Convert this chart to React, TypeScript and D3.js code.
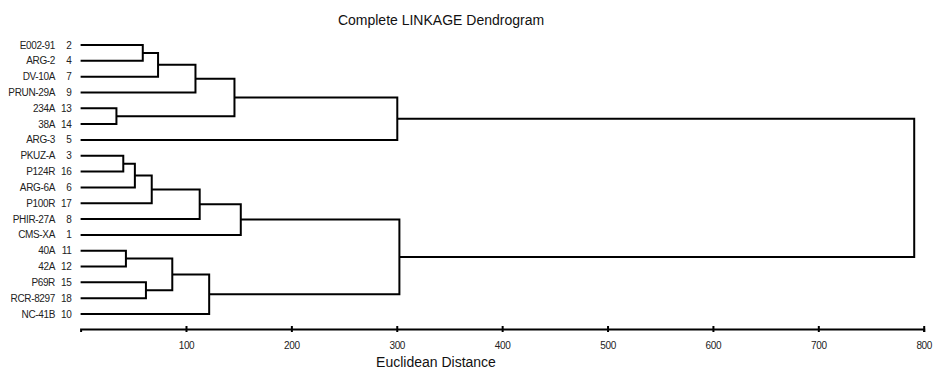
import { useEffect, useRef } from 'react';
import * as d3 from 'd3';

// hojas del dendrograma, de arriba a abajo
const leafNames = [
  'E002-91', 'ARG-2', 'DV-10A', 'PRUN-29A', '234A', '38A', 'ARG-3',
  'PKUZ-A', 'P124R', 'ARG-6A', 'P100R', 'PHIR-27A', 'CMS-XA',
  '40A', '42A', 'P69R', 'RCR-8297', 'NC-41B',
];
const leafIds = [2, 4, 7, 9, 13, 14, 5, 3, 16, 6, 17, 8, 1, 11, 12, 15, 18, 10];

// uniones: [nodo, hijo A, hijo B, distancia]
const merges: [string, string, string, number][] = [
  ['c1', 'E002-91', 'ARG-2', 59],
  ['c2', 'c1', 'DV-10A', 73.5],
  ['c3', 'c2', 'PRUN-29A', 109],
  ['c4', '234A', '38A', 34],
  ['c5', 'c3', 'c4', 146],
  ['c6', 'c5', 'ARG-3', 300.5],
  ['c7', 'PKUZ-A', 'P124R', 40.5],
  ['c8', 'c7', 'ARG-6A', 51.5],
  ['c9', 'c8', 'P100R', 67.5],
  ['c10', 'c9', 'PHIR-27A', 113],
  ['c11', 'c10', 'CMS-XA', 152],
  ['c12', '40A', '42A', 43],
  ['c13', 'P69R', 'RCR-8297', 62],
  ['c14', 'c12', 'c13', 87],
  ['c15', 'c14', 'NC-41B', 122],
  ['c16', 'c11', 'c15', 302.5],
  ['c17', 'c6', 'c16', 791],
];

const tickValues = [100, 200, 300, 400, 500, 600, 700, 800];
const title = 'Complete LINKAGE Dendrogram';
const xLabel = 'Euclidean Distance';

export default function App() {
  const chartRef = useRef<SVGSVGElement>(null);
  const width = 933;
  const height = 370;

  useEffect(() => {
    const svg = d3.select(chartRef.current);
    svg.selectAll('*').remove();

    const font = "'Liberation Sans', Arial, sans-serif";

    const x = d3.scaleLinear().domain([0, 800]).range([80.6, 923.7]);
    const y = d3.scalePoint<string>().domain(leafNames).range([45, 314]);

    // posiciones de cada nodo
    const pos = new Map<string, { x: number; y: number }>();
    leafNames.forEach(n => pos.set(n, { x: 0, y: y(n)! }));
    merges.forEach(([id, a, b, h]) => {
      pos.set(id, { x: h, y: (pos.get(a)!.y + pos.get(b)!.y) / 2 });
    });

    const g = svg.append('g');

    // ramas
    g.selectAll('.branch')
      .data(merges)
      .enter().append('path')
      .attr('class', 'branch')
      .attr('fill', 'none')
      .attr('stroke', '#000')
      .attr('stroke-width', 2)
      .attr('stroke-linejoin', 'miter')
      .attr('d', ([, a, b, h]) => {
        const pa = pos.get(a)!;
        const pb = pos.get(b)!;
        return `M${x(pa.x)},${pa.y}H${x(h)}V${pb.y}H${x(pb.x)}`;
      });

    // etiquetas de hojas
    g.selectAll('.leaf-name')
      .data(leafNames)
      .enter().append('text')
      .attr('x', 55)
      .attr('y', d => y(d)!)
      .attr('dy', '0.35em')
      .attr('text-anchor', 'end')
      .attr('fill', '#222')
      .style('font-family', font)
      .style('font-size', '10px')
      .style('letter-spacing', '-0.35px')
      .text(d => d);

    g.selectAll('.leaf-id')
      .data(leafNames)
      .enter().append('text')
      .attr('x', 71.5)
      .attr('y', d => y(d)!)
      .attr('dy', '0.35em')
      .attr('text-anchor', 'end')
      .attr('fill', '#222')
      .style('font-family', font)
      .style('font-size', '10px')
      .style('letter-spacing', '-0.35px')
      .text((d, i) => leafIds[i]);

    // eje X
    const axis = svg.append('g')
      .attr('transform', 'translate(0,329)')
      .call(d3.axisBottom(x).tickValues(tickValues).tickSizeOuter(0).tickSize(3));
    axis.select('.domain').attr('stroke', '#000').attr('stroke-width', 2);
    axis.selectAll('.tick line')
      .attr('y1', -3).attr('y2', 3)
      .attr('stroke', '#000').attr('stroke-width', 2);
    axis.selectAll('.tick text')
      .attr('y', 16).attr('dy', '0.35em')
      .attr('fill', '#222')
      .style('font-family', font)
      .style('font-size', '10px')
      .style('letter-spacing', '-0.35px');

    svg.append('text')
      .attr('x', 441)
      .attr('y', 20)
      .attr('dy', '0.35em')
      .attr('text-anchor', 'middle')
      .attr('fill', '#111')
      .style('font-family', font)
      .style('font-size', '14px')
      .text(title);

    svg.append('text')
      .attr('x', 436)
      .attr('y', 362)
      .attr('dy', '0.35em')
      .attr('text-anchor', 'middle')
      .attr('fill', '#111')
      .style('font-family', font)
      .style('font-size', '14px')
      .text(xLabel);
  }, []);

  return (
    <svg
      ref={chartRef}
      width={width}
      height={height}
      style={{ position: 'absolute', left: 0, top: 0, background: '#fff' }}
    />
  );
}
